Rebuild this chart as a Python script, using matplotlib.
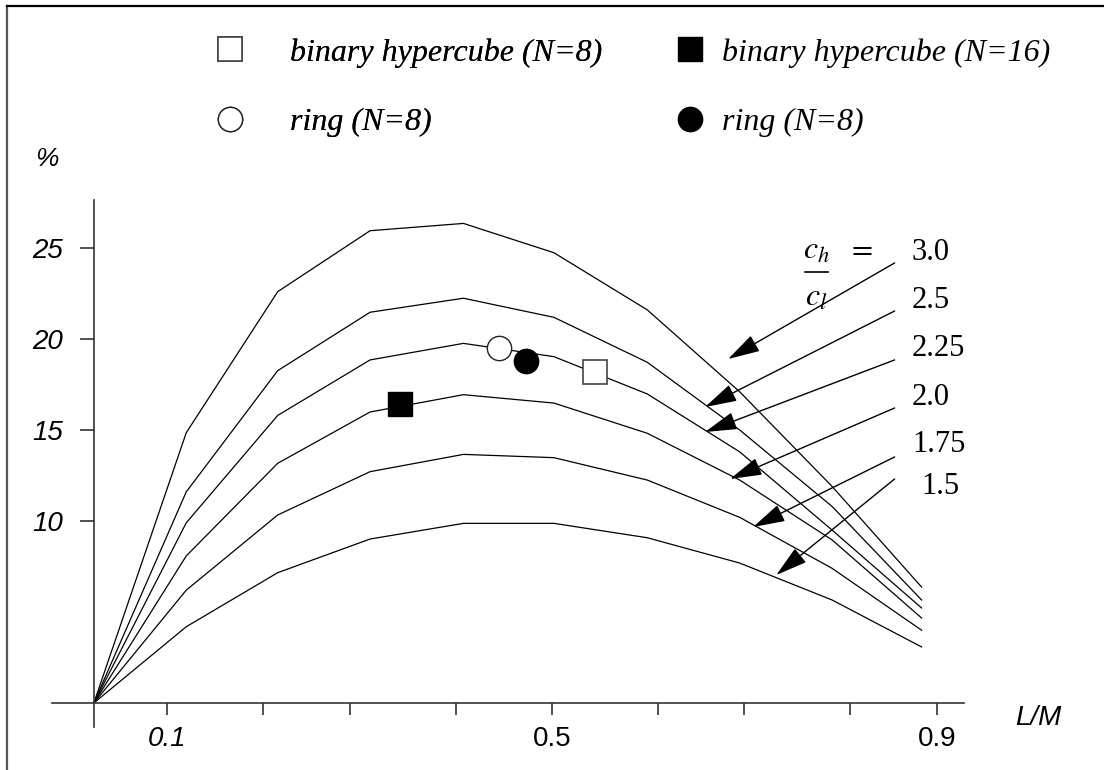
import numpy as np
import matplotlib
matplotlib.use("Agg")
import matplotlib.pyplot as plt
from matplotlib.lines import Line2D

plt.rcParams['mathtext.fontset'] = 'stix'

# L/M positions of the curve vertices
L_M = [0.024, 0.12, 0.215, 0.311, 0.408, 0.502, 0.599, 0.695, 0.791, 0.884]

# percentage curves for each c_h / c_l ratio
ratios = ['3.0', '2.5', '2.25', '2.0', '1.75', '1.5']
pct_30 = [0, 14.85, 22.6, 25.95, 26.35, 24.74, 21.6, 17.1, 11.9, 6.37]
pct_25 = [0, 11.6, 18.26, 21.47, 22.24, 21.19, 18.72, 15.0, 10.8, 5.66]
pct_225 = [0, 9.9, 15.8, 18.85, 19.76, 19.03, 16.98, 13.8, 9.5, 5.22]
pct_20 = [0, 8.08, 13.17, 15.99, 16.94, 16.48, 14.82, 12.25, 8.96, 4.67]
pct_175 = [0, 6.2, 10.33, 12.71, 13.66, 13.48, 12.25, 10.2, 7.4, 4.0]
pct_15 = [0, 4.19, 7.16, 9.01, 9.87, 9.87, 9.08, 7.69, 5.66, 3.08]
curves = [pct_30, pct_25, pct_225, pct_20, pct_175, pct_15]

# measured points
hc8_x, hc8_y = [0.545], [18.2]
hc16_x, hc16_y = [0.342], [16.43]
ring_open_x, ring_open_y = [0.445], [19.52]
ring_fill_x, ring_fill_y = [0.473], [18.79]

# axis ticks
xtick_pos = [0.1, 0.2, 0.29, 0.4, 0.5, 0.61, 0.7, 0.81, 0.9]
xtick_lab = ['0.1', '', '', '', '0.5', '', '', '', '0.9']
ytick_pos = [10, 15, 20, 25]
ytick_lab = ['10', '15', '20', '25']

fig = plt.figure(figsize=(11.04, 7.70), dpi=100)
ax = fig.add_axes([40 / 1104, 30 / 770, 960 / 1104, 560 / 770])
ax.set_xlim(-0.03195, 0.96546)
ax.set_ylim(-2.033, 28.736)

for vals in curves:
    ax.plot(L_M, vals, color='black', lw=0.9)

ms = 17.5
h1, = ax.plot(hc8_x, hc8_y, 's', ms=ms, mfc='white', mec='#444444', mew=1.2, ls='none')
h2, = ax.plot(hc16_x, hc16_y, 's', ms=ms, mfc='black', mec='black', ls='none')
h3, = ax.plot(ring_open_x, ring_open_y, 'o', ms=ms, mfc='white', mec='#222222', mew=1.0, ls='none')
h4, = ax.plot(ring_fill_x, ring_fill_y, 'o', ms=ms, mfc='black', mec='black', ls='none')

# axes
for s in ['top', 'right']:
    ax.spines[s].set_visible(False)
ax.spines['left'].set_position(('data', L_M[0]))
ax.spines['bottom'].set_position(('data', 0))
ax.spines['left'].set_bounds(-1.32, 27.64)
ax.spines['bottom'].set_bounds(-0.0195, 0.928)
for s in ['left', 'bottom']:
    ax.spines[s].set_color('#333333')
    ax.spines[s].set_linewidth(1.2)

ax.set_xticks(xtick_pos, labels=xtick_lab)
ax.set_yticks(ytick_pos, labels=ytick_lab)
ax.tick_params(axis='x', direction='out', length=8.6, width=1.2, color='#333333', pad=8)
ax.tick_params(axis='y', direction='out', length=10, width=1.2, color='#333333', pad=12)
for t in ax.get_xticklabels() + ax.get_yticklabels():
    t.set_fontfamily('Liberation Sans')
    t.set_fontsize(20)
ax.get_xticklabels()[0].set_style('italic')
for t in ax.get_yticklabels():
    t.set_style('italic')

fig.text(35 / 1104, 1 - 159 / 770, '%', family='Liberation Sans', style='italic',
         fontsize=19, va='center')
fig.text(1015 / 1104, 1 - 718 / 770, 'L/M', family='Liberation Sans', style='italic',
         fontsize=20, va='center')

# ratio labels and arrows
label_x = [0.874, 0.874, 0.874, 0.874, 0.874, 0.884]
label_y = [24.73, 22.09, 19.5, 16.81, 14.23, 11.87]
arrow_start = [(0.856, 24.18), (0.856, 21.54), (0.856, 18.85), (0.856, 16.21),
               (0.856, 13.52), (0.856, 12.31)]
arrow_tip = [(0.683, 18.9), (0.659, 16.26), (0.659, 14.89), (0.685, 12.31),
             (0.709, 9.67), (0.733, 7.03)]
for r, lx, ly, a0, a1 in zip(ratios, label_x, label_y, arrow_start, arrow_tip):
    ax.text(lx, ly, r, family='Liberation Serif', fontsize=22, va='center', ha='left')
    ax.annotate('', xy=a1, xytext=a0,
                arrowprops=dict(arrowstyle='-|>,head_length=1.0,head_width=0.28',
                                color='black', lw=1, mutation_scale=20,
                                shrinkA=0, shrinkB=0))

ax.text(0.761, 24.9, r'$c_h$', fontsize=23, va='center', ha='left')
ax.text(0.807, 24.95, r'$=$', fontsize=22, va='center', ha='left')
ax.text(0.763, 22.3, r'$c_l$', fontsize=23, va='center', ha='left')
ax.plot([0.763, 0.787], [23.68, 23.68], color='black', lw=1.2, clip_on=False)

# legend, one column at a time
lprop = {'family': 'Liberation Serif', 'style': 'italic', 'size': 23}
leg1 = fig.legend([h1, h3], ['binary hypercube (N=8)', 'ring (N=8)'],
                  loc='upper left', bbox_to_anchor=(214 / 1104, 1 - 38 / 770),
                  frameon=False, handlelength=1.0, handletextpad=1.38,
                  labelspacing=1.25, borderpad=0, borderaxespad=0, prop=lprop)
leg2 = fig.legend([h2, h4], ['binary hypercube (N=16)', 'ring (N=8)'],
                  loc='upper left', bbox_to_anchor=(674 / 1104, 1 - 38 / 770),
                  frameon=False, handlelength=1.0, handletextpad=0.5,
                  labelspacing=1.25, borderpad=0, borderaxespad=0, prop=lprop)
fig.add_artist(leg1)

# figure frame (left and top)
fig.add_artist(Line2D([7 / 1104, 7 / 1104], [0, 1 - 6 / 770], color='#555555', lw=1.6))
fig.add_artist(Line2D([7 / 1104, 1], [1 - 6 / 770, 1 - 6 / 770], color='black', lw=1.6))

fig.savefig('out.png', dpi=100)
